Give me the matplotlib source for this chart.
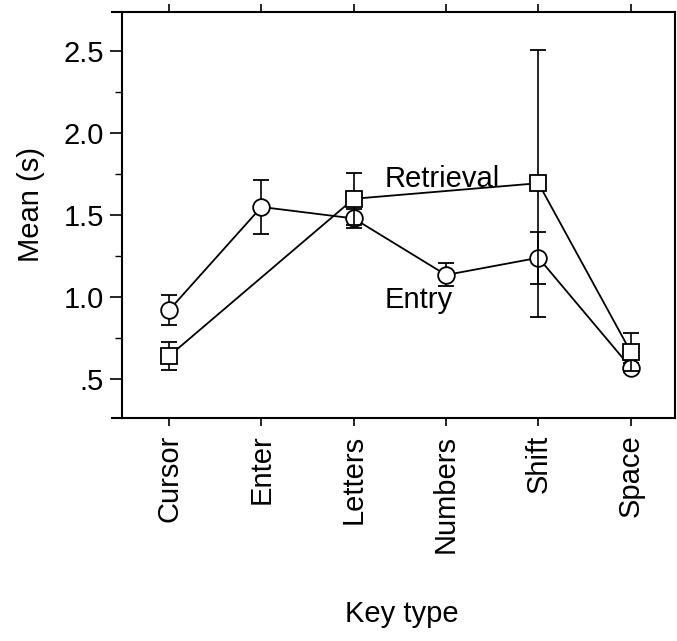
import numpy as np
import matplotlib.pyplot as plt
from matplotlib.ticker import MultipleLocator

plt.rcParams['font.family'] = ['Liberation Sans', 'DejaVu Sans']

# Key types and mean times (s)
keys = ['Cursor', 'Enter', 'Letters', 'Numbers', 'Shift', 'Space']

entry_mean = [0.92, 1.55, 1.48, 1.135, 1.24, 0.57]
entry_err = [0.09, 0.165, 0.06, 0.07, 0.16, 0.03]

# retrieval was not measured for Enter and Numbers
retrieval_idx = [0, 2, 4, 5]
retrieval_mean = [0.64, 1.60, 1.695, 0.665]
retrieval_err = [0.085, 0.16, 0.815, 0.115]

fs = 21

fig = plt.figure(figsize=(6.77, 6.41), dpi=100)
ax = fig.add_axes([0.1802, 0.3479, 0.817, 0.6334])

x = np.arange(len(keys))

ax.errorbar(x, entry_mean, yerr=entry_err, color='black', lw=1.3,
            elinewidth=1.2, capsize=6, capthick=1.3,
            marker='o', ms=12, mfc='white', mec='black', mew=1.3, zorder=3)
ax.errorbar(retrieval_idx, retrieval_mean, yerr=retrieval_err, color='black', lw=1.3,
            elinewidth=1.2, capsize=6, capthick=1.3,
            marker='s', ms=11, mfc='white', mec='black', mew=1.3, zorder=4)

ax.text(2.96, 1.72, 'Retrieval', fontsize=fs, ha='center', va='center')
ax.text(2.7, 0.98, 'Entry', fontsize=fs, ha='center', va='center')

ax.set_xlim(-0.51, 5.48)
ax.set_ylim(0.262, 2.74)

ax.set_xticks(x)
ax.set_xticklabels(keys, rotation=90, fontsize=fs)
ax.tick_params(axis='x', direction='out', length=6, width=1.2, top=True, pad=6)

ax.set_yticks([0.5, 1.0, 1.5, 2.0, 2.5])
ax.set_yticklabels(['.5', '1.0', '1.5', '2.0', '2.5'], fontsize=fs)
ax.yaxis.set_minor_locator(MultipleLocator(0.25))
ax.tick_params(axis='y', which='major', direction='out', length=9, width=1.2, pad=4)
ax.tick_params(axis='y', which='minor', direction='out', length=5, width=1.0)

for s in ax.spines.values():
    s.set_linewidth(1.5)

# top and bottom frame lines run a little past the left axis
ax.plot([-0.018, 0], [0, 0], color='black', lw=1.5, transform=ax.transAxes, clip_on=False)
ax.plot([-0.018, 0], [1, 1], color='black', lw=1.5, transform=ax.transAxes, clip_on=False)

ax.set_ylabel('Mean (s)', fontsize=fs)
ax.yaxis.set_label_coords(-0.14, 0.525)
ax.set_xlabel('Key type', fontsize=fs)
ax.xaxis.set_label_coords(0.506, -0.448)

fig.savefig('out.png', dpi=100)
